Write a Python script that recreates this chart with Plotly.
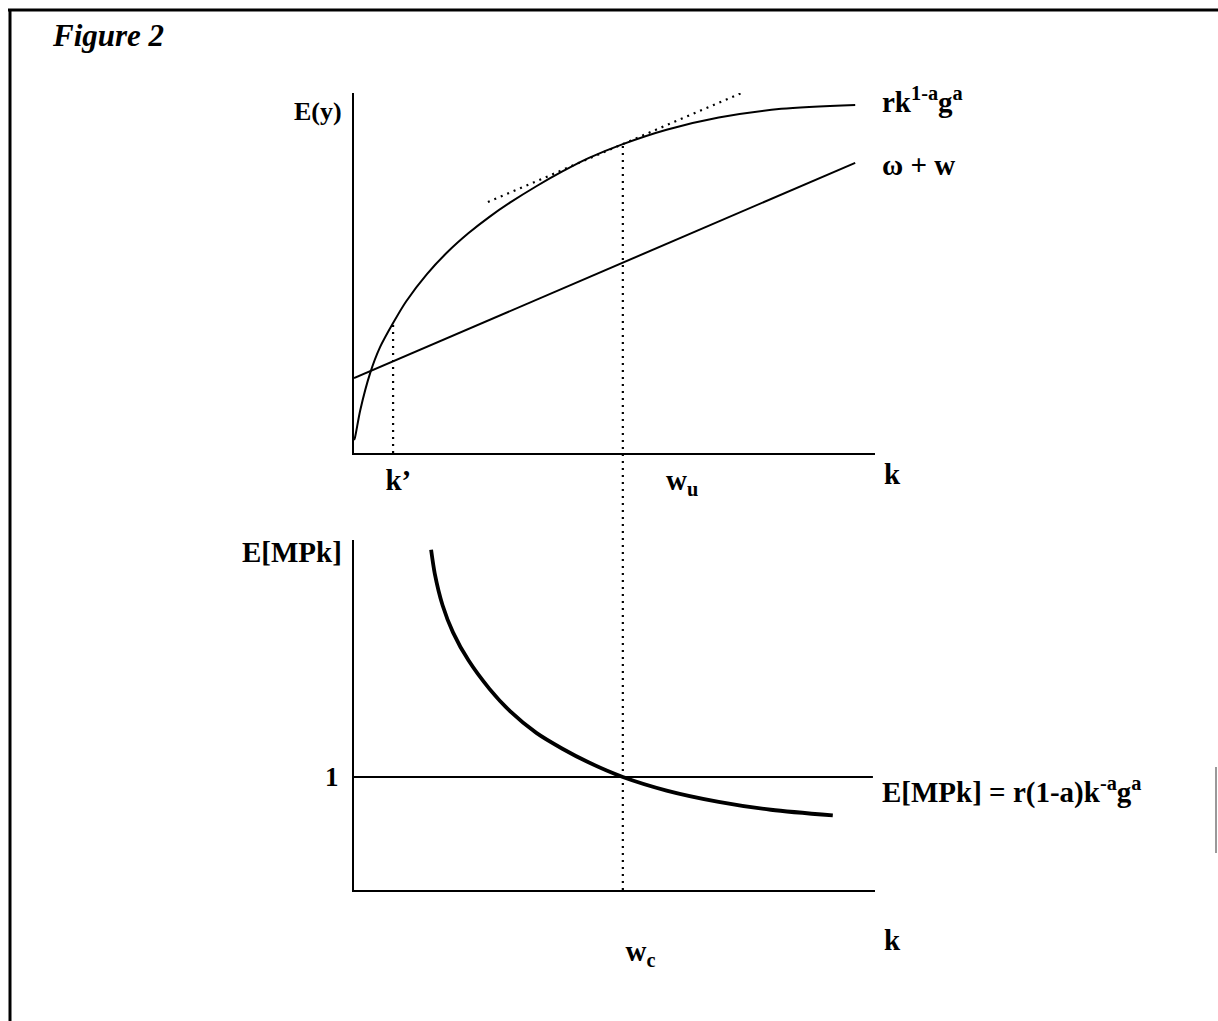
import plotly.graph_objects as go
from plotly.subplots import make_subplots

out_k = [0.0, 0.02, 0.12, 0.31, 0.50, 0.75, 1.0, 1.4, 1.8, 2.2, 2.6, 3.0,
         3.5, 4.0, 4.5, 5.16, 6.0, 7.0, 8.2, 9.62]
out_y = [0.36, 0.44, 1.19, 2.22, 2.94, 3.61, 4.21, 4.97, 5.59, 6.11, 6.56, 6.96,
         7.41, 7.82, 8.19, 8.58, 8.98, 9.32, 9.56, 9.67]

# omega + w line
wage_k = [0.0, 9.62]
wage_y = [2.08, 8.06]

# tangent at w_u (dotted)
tan_k = [2.57, 7.66]
tan_y = [6.97, 10.14]

# k' and w_u / w_c marks
k_prime = 0.75
k_prime_y = 3.61
w_star = 5.16
w_star_y = 8.58

# lower panel: E[MPk] curve
mpk_k = [1.48, 1.55, 1.7, 1.9, 2.2, 2.6, 3.0, 3.5, 4.0, 4.5, 5.16, 6.0, 7.0, 8.0, 9.19]
mpk_y = [3.01, 2.80, 2.52, 2.28, 2.03, 1.78, 1.58, 1.39, 1.25, 1.13, 1.00, 0.88, 0.78, 0.71, 0.66]
one_k = [0.0, 9.96]
one_y = [1.0, 1.0]

top_ticks = [0.85, 6.3]
top_ticktext = ["k’", "w<sub>u</sub>"]
bot_ticks = [5.5]
bot_ticktext = ["w<sub>c</sub>"]

FONT = "Liberation Serif"
W, H = 1218, 1021

x_dom = [354 / W, 875 / W]
top_dom = [1 - 453 / H, 1 - 93 / H]
bot_dom = [1 - 890 / H, 1 - 540 / H]

DOTS = dict(color="black", width=2.2, dash="2px,5px")

fig = make_subplots(rows=2, cols=1)
fig.add_trace(go.Scatter(x=out_k, y=out_y, mode="lines",
                         line=dict(color="black", width=2, shape="spline", smoothing=0.8)), row=1, col=1)
fig.add_trace(go.Scatter(x=wage_k, y=wage_y, mode="lines", line=dict(color="black", width=2)), row=1, col=1)
fig.add_trace(go.Scatter(x=tan_k, y=tan_y, mode="lines", line=DOTS), row=1, col=1)
fig.add_trace(go.Scatter(x=[k_prime, k_prime], y=[0, k_prime_y], mode="lines", line=DOTS), row=1, col=1)
fig.add_trace(go.Scatter(x=one_k, y=one_y, mode="lines", line=dict(color="black", width=2)), row=2, col=1)
fig.add_trace(go.Scatter(x=mpk_k, y=mpk_y, mode="lines",
                         line=dict(color="black", width=3.8, shape="spline", smoothing=0.8)), row=2, col=1)

# dotted line running from the lower axis up to the output curve
y_top = top_dom[0] + w_star_y / 10 * (top_dom[1] - top_dom[0])
fig.add_shape(type="line", xref="x", yref="paper", x0=w_star, x1=w_star, y0=bot_dom[0], y1=y_top, line=DOTS)

# frame of the scanned page
fig.add_shape(type="line", xref="paper", yref="paper", x0=8 / W, x1=1, y0=1 - 10 / H, y1=1 - 10 / H,
              line=dict(color="black", width=3))
fig.add_shape(type="line", xref="paper", yref="paper", x0=10 / W, x1=10 / W, y0=0, y1=1 - 10 / H,
              line=dict(color="black", width=3))
fig.add_shape(type="line", xref="paper", yref="paper", x0=1216 / W, x1=1216 / W, y0=1 - 853 / H, y1=1 - 767 / H,
              line=dict(color="#777777", width=1.5))

tick_font = dict(family=FONT, size=29, color="black", weight="bold")
axis_common = dict(showgrid=False, zeroline=False, showline=True, linecolor="black", linewidth=2, ticks="")
fig.update_xaxes(axis_common)
fig.update_yaxes(axis_common)
fig.update_layout(
    xaxis=dict(domain=x_dom, range=[0, 10], tickvals=top_ticks, ticktext=top_ticktext,
               tickfont=tick_font, ticklabelstandoff=0),
    yaxis=dict(domain=top_dom, range=[0, 10], showticklabels=False),
    xaxis2=dict(domain=x_dom, range=[0, 10], tickvals=bot_ticks, ticktext=bot_ticktext,
                tickfont=tick_font, ticklabelstandoff=34),
    yaxis2=dict(domain=bot_dom, range=[0, 3.097], tickvals=[1], ticktext=["1"],
                tickfont=dict(family=FONT, size=27, color="black", weight="bold"), ticklabelstandoff=8),
)

labels = [
    ("<b><i>Figure 2</i></b>", 50 / W, 1 - 35 / H, "left", 31),
    ("<b>E(y)</b>", 344 / W, 1 - 112 / H, "right", 26),
    ("<b>rk<sup>1-a</sup>g<sup>a</sup></b>", 880 / W, 1 - 100 / H, "left", 29),
    ("<b>ω + w</b>", 880 / W, 1 - 165 / H, "left", 29),
    ("<b>k</b>", 892 / W, 1 - 474 / H, "center", 29),
    ("<b>E[MPk]</b>", 344 / W, 1 - 552 / H, "right", 29),
    ("<b>E[MPk] = r(1-a)k<sup>-a</sup>g<sup>a</sup></b>", 880 / W, 1 - 790 / H, "left", 29),
    ("<b>k</b>", 892 / W, 1 - 940 / H, "center", 29),
]
for text, x, y, anchor, size in labels:
    fig.add_annotation(text=text, x=x, y=y, xref="paper", yref="paper", xanchor=anchor, yanchor="middle",
                       showarrow=False, font=dict(family=FONT, size=size, color="black"))

fig.update_layout(width=W, height=H, margin=dict(l=0, r=0, t=0, b=0), showlegend=False,
                  plot_bgcolor="white", paper_bgcolor="white",
                  font=dict(family=FONT, color="black"))
fig.write_html("out.html", config={"displayModeBar": False},
               post_script="document.body.style.margin = '0px';")
